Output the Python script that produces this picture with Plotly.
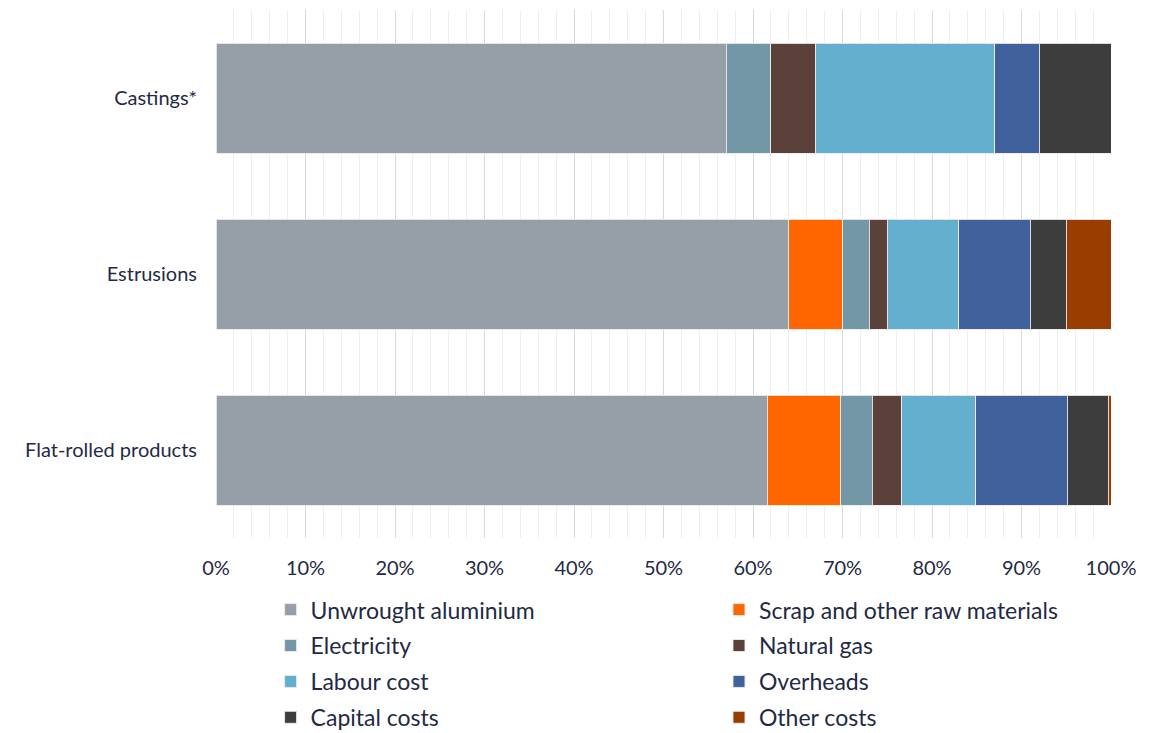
import plotly.graph_objects as go

# Cost structure by product type (share of total cost, %)
categories = ["Castings*", "Estrusions", "Flat-rolled products"]

unwrought_aluminium = [57.0, 64.0, 61.6]
scrap_raw_materials = [0.0, 6.0, 8.2]
electricity = [5.0, 3.0, 3.5]
natural_gas = [5.0, 2.0, 3.3]
labour_cost = [20.0, 8.0, 8.3]
overheads = [5.0, 8.0, 10.2]
capital_costs = [8.0, 4.0, 4.6]
other_costs = [0.0, 5.0, 0.3]

tick_values = [0, 10, 20, 30, 40, 50, 60, 70, 80, 90, 100]
tick_labels = ["0%", "10%", "20%", "30%", "40%", "50%", "60%", "70%", "80%", "90%", "100%"]

# name, values, colour, legend column
series = [
    ("Unwrought aluminium", unwrought_aluminium, "#969EA7", "legend"),
    ("Scrap and other raw materials", scrap_raw_materials, "#FF6600", "legend2"),
    ("Electricity", electricity, "#7497A8", "legend"),
    ("Natural gas", natural_gas, "#5C403A", "legend2"),
    ("Labour cost", labour_cost, "#64AFCD", "legend"),
    ("Overheads", overheads, "#41619C", "legend2"),
    ("Capital costs", capital_costs, "#3D3D3D", "legend"),
    ("Other costs", other_costs, "#993D00", "legend2"),
]

text_color = "#1F2A44"
font_family = "Lato, Open Sans, sans-serif"

fig = go.Figure()
for name, values, color, legend_ref in series:
    fig.add_trace(go.Bar(
        y=categories,
        x=values,
        name=name,
        legend=legend_ref,
        legendgroup=name,
        orientation="h",
        marker=dict(color=color, line=dict(color="rgba(235,235,235,0.9)", width=1)),
        width=0.625,
    ))

legend_style = dict(
    orientation="v",
    y=-0.095,
    xanchor="left",
    yanchor="top",
    font=dict(size=23, color=text_color, family=font_family),
    itemwidth=30,
    traceorder="grouped",
    tracegroupgap=3,
    bgcolor="rgba(0,0,0,0)",
)

fig.update_layout(
    barmode="stack",
    width=1161,
    height=733,
    margin=dict(l=216, r=50, t=10, b=195, autoexpand=False),
    paper_bgcolor="white",
    plot_bgcolor="white",
    font=dict(family=font_family, color=text_color, size=20),
    showlegend=True,
    legend=dict(x=0.061, **legend_style),
    legend2=dict(x=0.562, **legend_style),
    xaxis=dict(
        range=[0, 100],
        tickvals=tick_values,
        ticktext=tick_labels,
        showgrid=True,
        gridcolor="#D9D9D9",
        gridwidth=1,
        minor=dict(dtick=2, showgrid=True, gridcolor="#EFEFEF", gridwidth=1),
        zeroline=False,
        showline=False,
        ticks="",
        ticklabelstandoff=16,
        tickfont=dict(size=20, color=text_color),
        fixedrange=True,
    ),
    yaxis=dict(
        categoryorder="array",
        categoryarray=categories[::-1],
        showgrid=False,
        zeroline=False,
        showline=False,
        ticks="",
        ticklabelstandoff=18,
        tickfont=dict(size=20, color=text_color),
        fixedrange=True,
    ),
)

fig.write_html("out.html")
